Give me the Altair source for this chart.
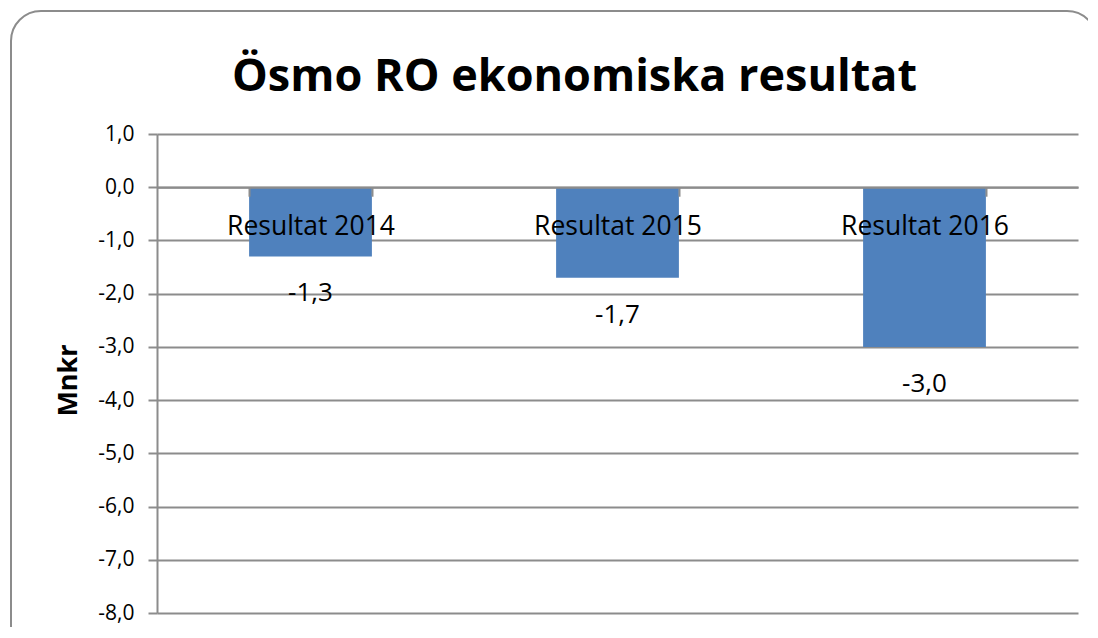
import altair as alt
import pandas as pd

# ---- data ----
categories = ["Resultat 2014", "Resultat 2015", "Resultat 2016"]
values = [-1.3, -1.7, -3.0]
value_labels = ["-1,3", "-1,7", "-3,0"]
y_ticks = [1, 0, -1, -2, -3, -4, -5, -6, -7, -8]
title_text = "Ösmo RO ekonomiska resultat"
y_title = "Mnkr"

df = pd.DataFrame({"kategori": categories, "resultat": values, "etikett": value_labels})

W, H = 921, 479
FONT = "Open Sans"
GRID = "#8c8c8c"
BAR = "#4F81BD"

x_enc = alt.X(
    "kategori:N",
    sort=categories,
    title=None,
    scale=alt.Scale(paddingInner=0.6, paddingOuter=0.3),
    axis=alt.Axis(
        orient="bottom",
        offset=-H * 8 / 9,
        tickBand="extent",
        labelAngle=0,
        labelFont=FONT,
        labelFontSize=26.5,
        labelColor="black",
        labelPadding=30,
        labelBaseline="middle",
        tickSize=9,
        tickColor=GRID,
        tickWidth=2,
        domainColor=GRID,
        domainWidth=2,
        grid=False,
        zindex=1,
    ),
)

y_enc = alt.Y(
    "resultat:Q",
    title=y_title,
    scale=alt.Scale(domain=[-8, 1], nice=False, zero=False),
    axis=alt.Axis(
        values=y_ticks,
        labelExpr="(datum.value < 0 ? '-' : '') + replace(format(abs(datum.value), '.1f'), '.', ',')",
        labelFont=FONT,
        labelFontSize=21,
        labelColor="black",
        labelPadding=14,
        tickSize=9,
        tickColor=GRID,
        tickWidth=2,
        domainColor=GRID,
        domainWidth=2,
        grid=True,
        gridColor=GRID,
        gridWidth=2,
        titleFont=FONT,
        titleFontSize=27,
        titleFontWeight="bold",
        titleColor="black",
        titleX=-89,
        titleY=246,
        titleAlign="center",
        titleBaseline="middle",
        titleAngle=-90,
        zindex=0,
    ),
)

frame = alt.Chart(pd.DataFrame({"f": [0]})).mark_rect(
    filled=False, stroke=GRID, strokeWidth=2, cornerRadius=30
).encode(
    x=alt.value(-146), x2=alt.value(940), y=alt.value(-123), y2=alt.value(530)
)

bars = alt.Chart(df).mark_bar(color=BAR).encode(x=x_enc, y=y_enc)

texts = alt.Chart(df).mark_text(
    font=FONT, fontSize=26, color="black", baseline="middle", dy=37
).encode(x=x_enc, y=y_enc, text="etikett:N")

chart = (
    alt.layer(frame, bars, texts)
    .properties(
        width=W,
        height=H,
        padding={"left": 149, "top": 126, "right": 10, "bottom": 14},
        autosize=alt.AutoSizeParams(type="none"),
        title=alt.TitleParams(
            title_text,
            font=FONT,
            fontSize=45,
            fontWeight="bold",
            color="black",
            anchor="middle",
            frame="group",
            dx=-43,
            offset=-126,
            baseline="alphabetic",
        ),
        background="white",
    )
    .configure_view(stroke=None)
)

chart.save("out.html", embed_options={"renderer": "svg", "actions": False})
